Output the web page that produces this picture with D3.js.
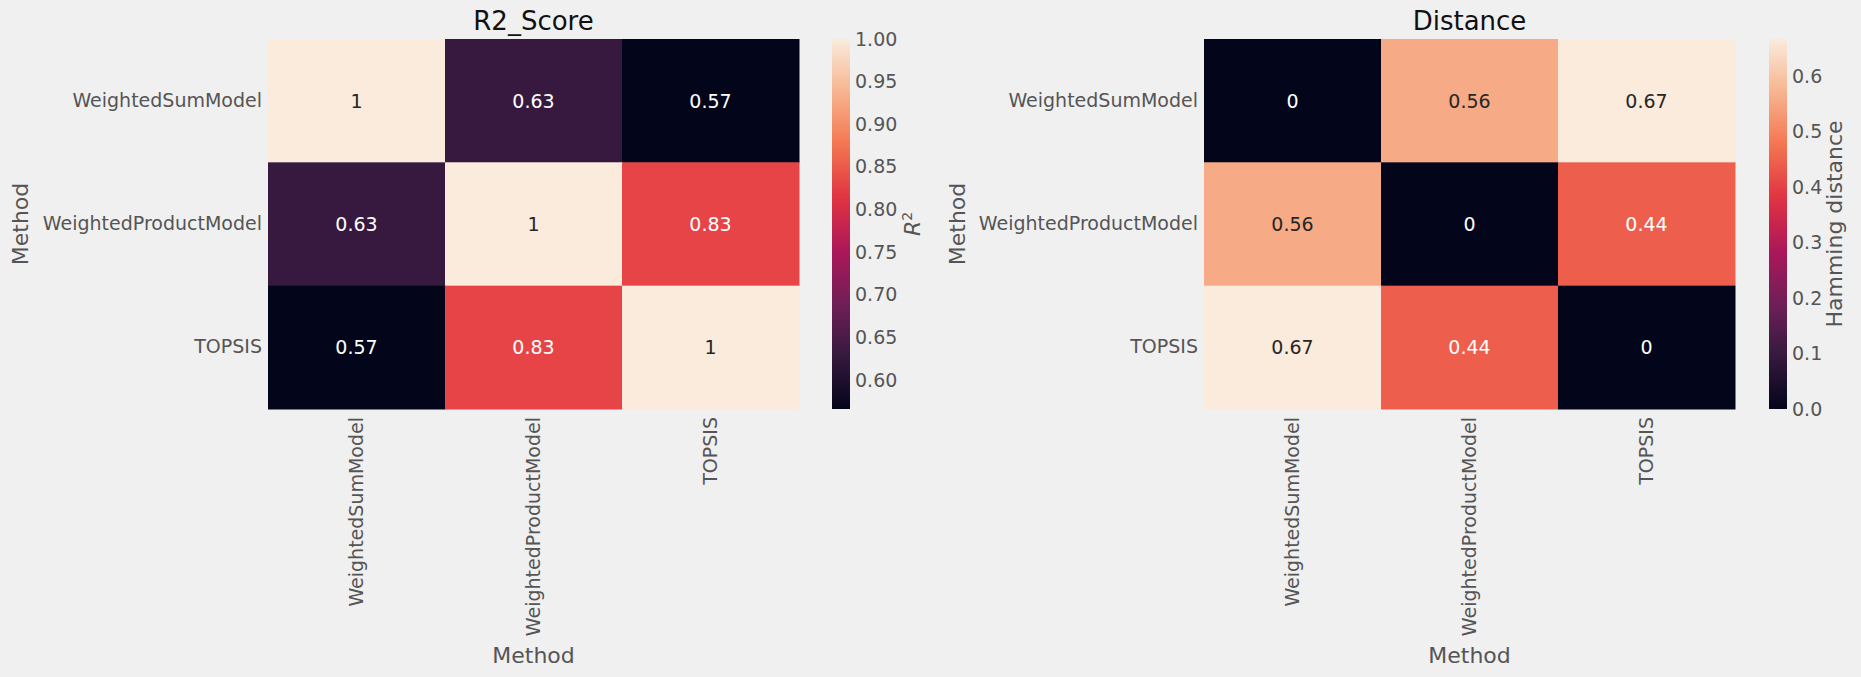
<!DOCTYPE html>
<html>
<head>
<meta charset="utf-8">
<script src="https://cdn.jsdelivr.net/npm/d3@7"></script>
<style>
  body { margin: 0; background: #f0f0f0; }
  svg { display: block; font-family: "DejaVu Sans", sans-serif; }
</style>
</head>
<body>
<svg id="chart"></svg>
<script>
// data
const methods = ['WeightedSumModel', 'WeightedProductModel', 'TOPSIS']

const r2Values = [
    [1.0, 0.63, 0.566],
    [0.63, 1.0, 0.83],
    [0.566, 0.83, 1.0]
]
const r2Ticks = [0.60, 0.65, 0.70, 0.75, 0.80, 0.85, 0.90, 0.95, 1.00]

const distValues = [
    [0, 0.556, 0.667],
    [0.556, 0, 0.444],
    [0.667, 0.444, 0]
]
const distTicks = [0.0, 0.1, 0.2, 0.3, 0.4, 0.5, 0.6]

// seaborn "rocket" colormap, sampled
const rocketStops = ['#03051a', '#35193e', '#701f57', '#ad1759', '#e13342', '#f37651', '#f6b48f', '#faebdd']
const rocket = d3.scaleLinear()
    .domain(d3.range(rocketStops.length).map(i => i / (rocketStops.length - 1)))
    .range(rocketStops)
    .interpolate(d3.interpolateRgb)

// same rule seaborn uses to pick annotation colour
function luminance(c) {
    const rgb = d3.rgb(c)
    const lin = [rgb.r, rgb.g, rgb.b].map(v => {
        v = v / 255
        return v <= 0.03928 ? v / 12.92 : Math.pow((v + 0.055) / 1.055, 2.4)
    })
    return 0.2126 * lin[0] + 0.7152 * lin[1] + 0.0722 * lin[2]
}

const W = 1861, H = 677
const FONT = '"DejaVu Sans", sans-serif'
const svg = d3.select('#chart').attr('width', W).attr('height', H)
const defs = svg.append('defs')

function heatmap(cfg) {
    const g = svg.append('g')
    const vals = cfg.values
    const flat = vals.flat()
    const vmin = cfg.vmin ?? d3.min(flat), vmax = cfg.vmax ?? d3.max(flat)
    const norm = d3.scaleLinear().domain([vmin, vmax]).range([0, 1])
    const color = v => rocket(norm(v))

    const x = d3.scaleBand().domain(methods).range([cfg.left, cfg.right])
    const y = d3.scaleBand().domain(methods).range([cfg.top, cfg.bottom])

    const cells = []
    vals.forEach((row, i) => row.forEach((v, j) => cells.push({row: methods[i], col: methods[j], v})))

    g.selectAll('rect.cell')
        .data(cells)
        .join('rect')
            .attr('class', 'cell')
            .attr('x', d => x(d.col))
            .attr('y', d => y(d.row))
            .attr('width', x.bandwidth() + 0.5)
            .attr('height', y.bandwidth() + 0.5)
            .attr('fill', d => color(d.v))

    g.selectAll('text.annot')
        .data(cells)
        .join('text')
            .attr('class', 'annot')
            .attr('x', d => x(d.col) + x.bandwidth() / 2)
            .attr('y', d => y(d.row) + y.bandwidth() / 2)
            .attr('dy', '0.36em')
            .attr('text-anchor', 'middle')
            .attr('font-size', 19)
            .attr('fill', d => luminance(color(d.v)) > 0.408 ? '#262626' : '#ffffff')
            .text(d => d3.format('.2~g')(d.v))

    // y axis
    const yAxis = g.append('g')
        .attr('transform', `translate(${cfg.left},0)`)
        .call(d3.axisLeft(y).tickSize(0).tickPadding(6))
        .attr('font-family', FONT)
    yAxis.select('.domain').remove()
    yAxis.selectAll('text').attr('font-size', 19).attr('fill', '#555555')

    // x axis, labels rotated
    const xAxis = g.append('g')
        .attr('transform', `translate(0,${cfg.bottom})`)
        .call(d3.axisBottom(x).tickSize(0))
        .attr('font-family', FONT)
    xAxis.select('.domain').remove()
    xAxis.selectAll('text')
        .attr('font-size', 19).attr('fill', '#555555')
        .attr('transform', 'rotate(-90)')
        .attr('text-anchor', 'end')
        .attr('x', -8)
        .attr('y', 0)
        .attr('dy', '0.36em')

    // axis labels and title
    const cx = (cfg.left + cfg.right) / 2
    g.append('text')
        .attr('x', cx).attr('y', 663)
        .attr('text-anchor', 'middle')
        .attr('font-size', 22).attr('fill', '#555555')
        .text('Method')
    g.append('text')
        .attr('transform', `translate(${cfg.ylabelX},${(cfg.top + cfg.bottom) / 2}) rotate(-90)`)
        .attr('text-anchor', 'middle')
        .attr('dy', '0.36em')
        .attr('font-size', 22).attr('fill', '#555555')
        .text('Method')
    g.append('text')
        .attr('x', cx).attr('y', 30)
        .attr('text-anchor', 'middle')
        .attr('font-size', 26).attr('fill', '#111111')
        .text(cfg.title)

    // colorbar
    const gradId = 'grad-' + cfg.id
    const grad = defs.append('linearGradient')
        .attr('id', gradId)
        .attr('x1', 0).attr('y1', 1).attr('x2', 0).attr('y2', 0)
    grad.selectAll('stop')
        .data(d3.range(0, 1.0001, 0.02))
        .join('stop')
            .attr('offset', d => d)
            .attr('stop-color', d => rocket(d))

    g.append('rect')
        .attr('x', cfg.cbLeft).attr('y', cfg.top)
        .attr('width', 18).attr('height', cfg.bottom - cfg.top)
        .attr('fill', `url(#${gradId})`)

    const cbScale = d3.scaleLinear().domain([vmin, vmax]).range([cfg.bottom, cfg.top])
    const cbAxis = g.append('g')
        .attr('transform', `translate(${cfg.cbLeft + 18},0)`)
        .call(d3.axisRight(cbScale).tickValues(cfg.ticks).tickSize(0).tickPadding(5).tickFormat(d3.format(cfg.tickFmt)))
        .attr('font-family', FONT)
    cbAxis.select('.domain').remove()
    cbAxis.selectAll('text').attr('font-size', 19).attr('fill', '#555555')

    const lab = g.append('text')
        .attr('transform', `translate(${cfg.cbLabelX},${(cfg.top + cfg.bottom) / 2}) rotate(-90)`)
        .attr('text-anchor', 'middle')
        .attr('dy', '0.36em')
        .attr('font-size', 22).attr('fill', '#555555')
    if (cfg.id === 'r2') {
        lab.append('tspan').attr('font-style', 'italic').text('R')
        lab.append('tspan').attr('font-size', 14).attr('dy', '-0.6em').text('2')
    } else {
        lab.text(cfg.cbLabel)
    }
}

heatmap({
    id: 'r2', title: 'R2_Score', values: r2Values, vmax: 1.0,
    left: 268, right: 799, top: 39, bottom: 409,
    cbLeft: 832, ticks: r2Ticks, tickFmt: '.2f', cbLabelX: 912, ylabelX: 20
})

heatmap({
    id: 'dist', title: 'Distance', values: distValues, vmin: 0,
    left: 1204, right: 1735, top: 39, bottom: 409,
    cbLeft: 1769, ticks: distTicks, tickFmt: '.1f', cbLabel: 'Hamming distance', cbLabelX: 1834, ylabelX: 957
})
</script>
</body>
</html>
